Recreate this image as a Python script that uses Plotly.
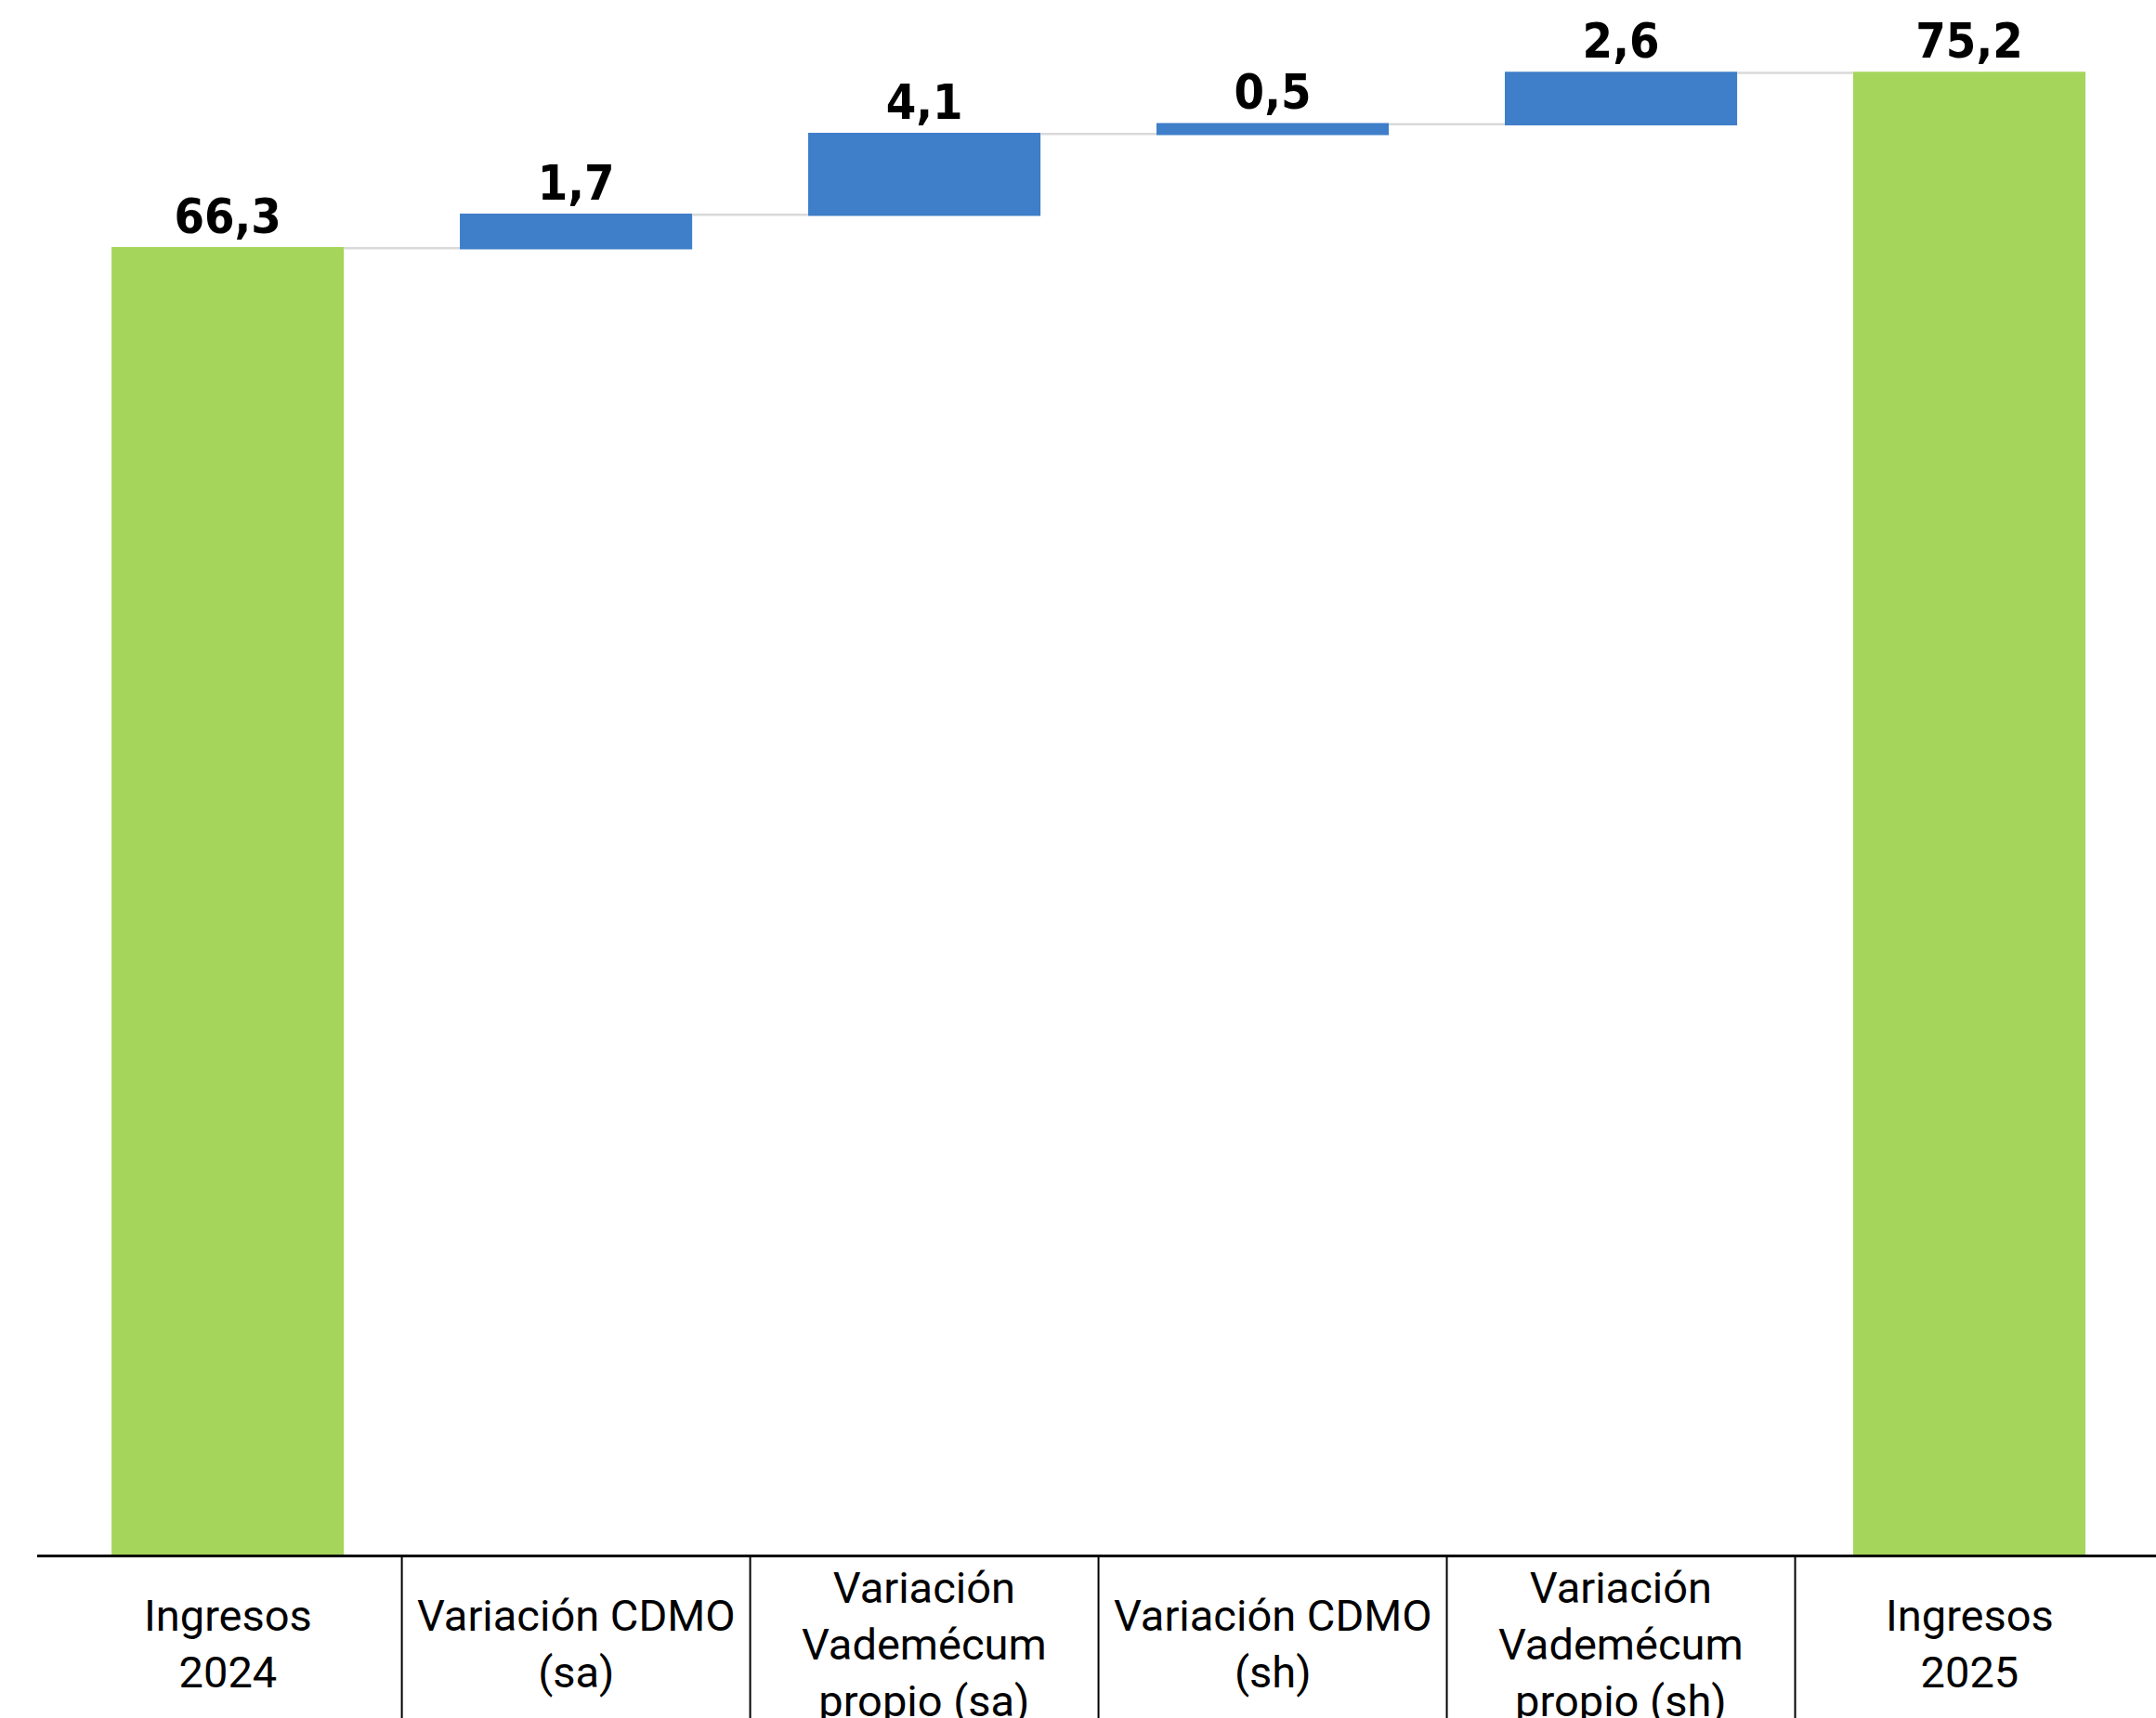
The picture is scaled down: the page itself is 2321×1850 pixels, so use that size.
import plotly.graph_objects as go

categories = ["Ingresos<br>2024", "Variación CDMO<br>(sa)", "Variación<br>Vademécum<br>propio (sa)",
              "Variación CDMO<br>(sh)", "Variación<br>Vademécum<br>propio (sh)", "Ingresos<br>2025"]
values = [66.3, 1.7, 4.1, 0.5, 2.6, 75.2]
measures = ["absolute", "relative", "relative", "relative", "relative", "total"]
labels = [f"{v:.1f}".replace(".", ",") for v in values]

GREEN = "#A5D65B"
BLUE = "#3F7EC8"

fig = go.Figure(go.Waterfall(
    x=list(range(len(categories))),
    y=[v if m != "total" else 0 for v, m in zip(values, measures)],
    measure=measures,
    text=labels,
    textposition="outside",
    textfont=dict(family="DejaVu Sans Condensed, Roboto Condensed, Roboto", size=52,
                  color="black", weight="bold"),
    increasing=dict(marker=dict(color=BLUE)),
    decreasing=dict(marker=dict(color=BLUE)),
    totals=dict(marker=dict(color=GREEN)),
    connector=dict(line=dict(color="#D9D9D9", width=2.5), mode="between"),
    cliponaxis=False,
    showlegend=False,
))

shapes = []
for i in range(len(categories) - 1):
    shapes.append(dict(type="line", xref="x", yref="paper", x0=i + 0.5, x1=i + 0.5,
                       y0=0, y1=-0.11, line=dict(color="black", width=2)))

annotations = []
for i, c in enumerate(categories):
    annotations.append(dict(x=i, xref="x", y=0, yref="paper", yshift=-96, text=c,
                            showarrow=False, yanchor="middle", xanchor="center",
                            font=dict(family="Roboto", size=47, color="black")))

fig.update_layout(
    width=2321, height=1850,
    margin=dict(l=40, r=0, t=0, b=176),
    paper_bgcolor="white", plot_bgcolor="white",
    waterfallgap=0.333,
    shapes=shapes,
    annotations=annotations,
    xaxis=dict(range=[-0.547, 5.536], showticklabels=False, ticks="", showgrid=False,
               zeroline=False, showline=True, linecolor="black", linewidth=3, fixedrange=True),
    yaxis=dict(range=[0, 78.9], visible=False, showgrid=False, zeroline=False),
)

fig.write_html("out.html", config={"displayModeBar": False},
               post_script="document.body.style.margin='0';document.body.style.overflow='hidden';")
